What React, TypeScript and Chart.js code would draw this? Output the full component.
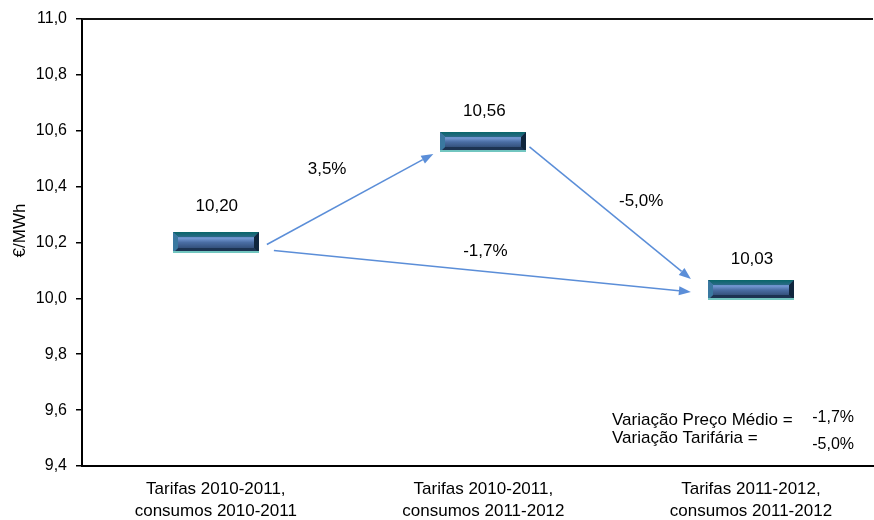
import { useEffect, useRef } from "react";
import { Chart, registerables } from "chart.js";

Chart.register(...registerables);

const categories: string[][] = [
  ["Tarifas 2010-2011,", "consumos 2010-2011"],
  ["Tarifas 2010-2011,", "consumos 2011-2012"],
  ["Tarifas 2011-2012,", "consumos 2011-2012"],
];
const values: number[] = [10.2, 10.56, 10.03];
const valueLabels: string[] = ["10,20", "10,56", "10,03"];
const barHalfHeight = 0.036;
const arrowsFrom: number[] = [0, 1, 0];
const arrowsTo: number[] = [1, 2, 2];
const arrowLabels: string[] = ["3,5%", "-5,0%", "-1,7%"];
const summaryNames: string[] = ["Variação Preço Médio =", "Variação Tarifária ="];
const summaryValues: string[] = ["-1,7%", "-5,0%"];
const yTitle = "€/MWh";

const FONT = "'Liberation Sans', Arial, sans-serif";

function poly(ctx: CanvasRenderingContext2D, pts: number[][], fill: string | CanvasGradient) {
  ctx.beginPath();
  ctx.moveTo(pts[0][0], pts[0][1]);
  for (let i = 1; i < pts.length; i++) ctx.lineTo(pts[i][0], pts[i][1]);
  ctx.closePath();
  ctx.fillStyle = fill;
  ctx.fill();
}

function drawBevelBar(ctx: CanvasRenderingContext2D, x0: number, y0: number, x1: number, y1: number) {
  const w = x1 - x0;
  const h = y1 - y0;
  const b = Math.min(5, h / 3);
  const g = ctx.createLinearGradient(0, y0, 0, y1);
  g.addColorStop(0, "#2f5889");
  g.addColorStop(0.3, "#7398d2");
  g.addColorStop(0.5, "#4a6da3");
  g.addColorStop(1, "#1f3657");
  ctx.fillStyle = g;
  ctx.fillRect(x0, y0, w, h);
  const tg = ctx.createLinearGradient(0, y0, 0, y0 + b);
  tg.addColorStop(0, "#08666a");
  tg.addColorStop(1, "#2b6a86");
  poly(ctx, [[x0, y0], [x1, y0], [x1 - b, y0 + b], [x0 + b, y0 + b]], tg);
  poly(ctx, [[x0, y1], [x1, y1], [x1 - b, y1 - b], [x0 + b, y1 - b]], "#1c3352");
  poly(ctx, [[x0, y0], [x0 + b, y0 + b], [x0 + b, y1 - b], [x0, y1]], "#3a78a0");
  poly(ctx, [[x1, y0], [x1 - b, y0 + b], [x1 - b, y1 - b], [x1, y1]], "#10263d");
  ctx.fillStyle = "#72c6c0";
  ctx.fillRect(x0, y1 - 2, w, 2);
}

function drawArrow(ctx: CanvasRenderingContext2D, xa: number, ya: number, xb: number, yb: number) {
  const ang = Math.atan2(yb - ya, xb - xa);
  const len = 12;
  const hw = 4.5;
  const bx = xb - len * Math.cos(ang);
  const by = yb - len * Math.sin(ang);
  ctx.strokeStyle = "#5b8ed8";
  ctx.lineWidth = 1.5;
  ctx.beginPath();
  ctx.moveTo(xa, ya);
  ctx.lineTo(bx, by);
  ctx.stroke();
  ctx.beginPath();
  ctx.moveTo(xb, yb);
  ctx.lineTo(bx + hw * Math.sin(ang), by - hw * Math.cos(ang));
  ctx.lineTo(bx - hw * Math.sin(ang), by + hw * Math.cos(ang));
  ctx.closePath();
  ctx.fillStyle = "#5b8ed8";
  ctx.fill();
}

const decorPlugin = {
  id: "decor",
  afterDatasetsDraw(chart: any) {
    const ctx: CanvasRenderingContext2D = chart.ctx;
    const meta = chart.getDatasetMeta(0);
    const area = chart.chartArea;
    const bars = meta.data.map((el: any) => {
      const p = el.getProps(["x", "y", "base", "width"], true);
      const top = Math.min(p.y, p.base);
      const bot = Math.max(p.y, p.base);
      return { l: p.x - p.width / 2, r: p.x + p.width / 2, t: top, b: bot, cx: p.x, cy: (top + bot) / 2 };
    });
    ctx.save();
    bars.forEach((br: any) => drawBevelBar(ctx, Math.round(br.l), Math.round(br.t), Math.round(br.r), Math.round(br.b)));

    // arrows between bars
    const startOff = [[8, 2], [3, 5], [15, 8]];
    const endOff = [[-7, 12], [-17, -11], [-17, 2]];
    const labelOff = [[-23, -30], [31, -12], [3, -20]];
    ctx.font = `17px ${FONT}`;
    ctx.textAlign = "center";
    ctx.textBaseline = "middle";
    for (let i = 0; i < arrowsFrom.length; i++) {
      const a = bars[arrowsFrom[i]];
      const b = bars[arrowsTo[i]];
      const xa = a.r + startOff[i][0];
      const ya = a.cy + startOff[i][1];
      const xb = b.l + endOff[i][0];
      const yb = b.cy + endOff[i][1];
      drawArrow(ctx, xa, ya, xb, yb);
      ctx.fillStyle = "#000";
      ctx.fillText(arrowLabels[i], (xa + xb) / 2 + labelOff[i][0], (ya + yb) / 2 + labelOff[i][1]);
    }

    // value labels
    const vOff = [26, 21, 21];
    bars.forEach((br: any, i: number) => {
      ctx.fillStyle = "#000";
      ctx.fillText(valueLabels[i], br.cx + 1, br.t - vOff[i]);
    });

    // top frame line
    ctx.strokeStyle = "#111";
    ctx.lineWidth = 2;
    ctx.beginPath();
    ctx.moveTo(area.left, area.top);
    ctx.lineTo(area.right, area.top);
    ctx.stroke();

    // summary text
    ctx.textAlign = "left";
    ctx.fillStyle = "#000";
    ctx.font = `17px ${FONT}`;
    ctx.fillText(summaryNames[0], area.left + 530, area.bottom - 46);
    ctx.fillText(summaryNames[1], area.left + 530, area.bottom - 28);
    ctx.textAlign = "right";
    ctx.font = `16px ${FONT}`;
    ctx.fillText(summaryValues[0], area.right - 19, area.bottom - 48);
    ctx.fillText(summaryValues[1], area.right - 19, area.bottom - 21);

    // y title
    ctx.save();
    ctx.translate(20, (area.top + area.bottom) / 2 - 12);
    ctx.rotate(-Math.PI / 2);
    ctx.textAlign = "center";
    ctx.font = `17px ${FONT}`;
    ctx.fillText(yTitle, 0, 0);
    ctx.restore();
    ctx.restore();
  },
};

export default function App() {
  const ref = useRef<HTMLCanvasElement | null>(null);
  useEffect(() => {
    if (!ref.current) return;
    const chart = new Chart(ref.current, {
      type: "bar",
      data: {
        datasets: [
          {
            data: values.map((v, i) => ({ x: i, y: [v - barHalfHeight, v + barHalfHeight] })) as any,
            backgroundColor: "rgba(0,0,0,0)",
            borderWidth: 0,
            barPercentage: 1,
            categoryPercentage: 0.322,
          },
        ],
      },
      options: {
        animation: false,
        responsive: true,
        maintainAspectRatio: false,
        layout: { padding: { top: 19, right: 1, left: 0, bottom: 0 } },
        plugins: { legend: { display: false }, tooltip: { enabled: false } },
        scales: {
          x: {
            type: "linear",
            offset: false,
            min: -0.5,
            max: 2.456,
            grid: { display: false, drawTicks: false },
            border: { display: true, color: "#000", width: 2 },
            afterBuildTicks: (scale: any) => {
              scale.ticks = categories.map((_, i) => ({ value: i }));
            },
            afterFit: (scale: any) => {
              scale.height = 54;
            },
            ticks: {
              autoSkip: false,
              maxRotation: 0,
              padding: 13,
              color: "#000",
              font: { family: FONT, size: 17, lineHeight: 1.25 },
              callback: (v: any) => categories[Math.round(Number(v))] ?? "",
            },
          },
          y: {
            min: 9.4,
            max: 11.0,
            grid: { drawOnChartArea: false, drawTicks: true, tickLength: 6, color: "#000", lineWidth: 1.5 },
            border: { display: true, color: "#000", width: 2 },
            afterFit: (scale: any) => {
              scale.width = 82;
            },
            ticks: {
              stepSize: 0.2,
              padding: 9,
              color: "#000",
              font: { family: FONT, size: 16 },
              callback: (v: any) => Number(v).toFixed(1).replace(".", ","),
            },
          },
        },
      },
      plugins: [decorPlugin],
    });
    return () => chart.destroy();
  }, []);
  return (
    <div style={{ position: "absolute", left: 0, top: 0, width: 874, height: 520, background: "#fff" }}>
      <canvas ref={ref} />
    </div>
  );
}
